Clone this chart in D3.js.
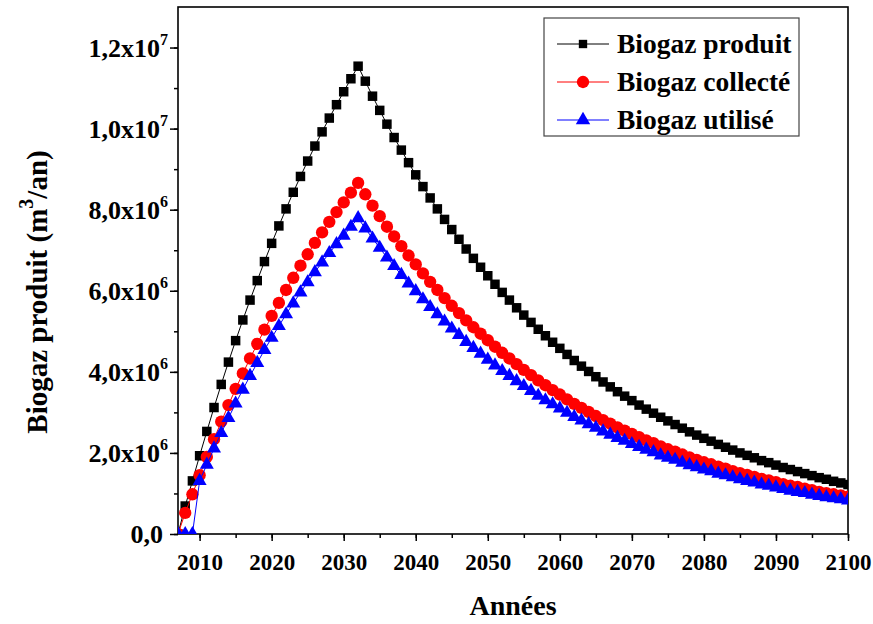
<!DOCTYPE html>
<html>
<head>
<meta charset="utf-8">
<script src="https://d3js.org/d3.v7.min.js"></script>
<style>
body { margin: 0; background: #fff; }
text { font-family: "Liberation Serif", "Times New Roman", serif; font-weight: bold; fill: #000; }
</style>
</head>
<body>
<svg id="chart" width="873" height="624"></svg>
<script>
// years 2007..2100, values in millions of m3/an
const years = d3.range(2007, 2101);

const produit = [0, 0.69, 1.31, 1.93, 2.53, 3.12, 3.69, 4.24, 4.77, 5.28, 5.77, 6.25, 6.72, 7.17, 7.60, 8.02, 8.43, 8.82, 9.20, 9.57,
  9.92, 10.26, 10.59, 10.91, 11.23, 11.54,
  11.17, 10.80, 10.45, 10.11, 9.78, 9.47, 9.16, 8.86, 8.57, 8.29, 8.02, 7.76, 7.51, 7.27, 7.03, 6.80, 6.58, 6.37,
  6.16, 5.96, 5.77, 5.58, 5.40, 5.22, 5.05, 4.89, 4.73, 4.58, 4.43, 4.28, 4.14, 4.01, 3.88, 3.75, 3.63, 3.51, 3.40, 3.29,
  3.18, 3.08, 2.98, 2.88, 2.79, 2.70, 2.61, 2.52, 2.44, 2.36, 2.29, 2.21, 2.14, 2.07, 2.00, 1.94, 1.88, 1.81, 1.76, 1.70,
  1.64, 1.59, 1.54, 1.49, 1.44, 1.39, 1.35, 1.30, 1.26, 1.22];

const collecte = [0, 0.52, 0.98, 1.45, 1.90, 2.34, 2.77, 3.18, 3.58, 3.96, 4.33, 4.69, 5.04, 5.38, 5.70, 6.02, 6.32, 6.62, 6.90, 7.18,
  7.44, 7.70, 7.94, 8.18, 8.42, 8.66,
  8.38, 8.10, 7.84, 7.58, 7.34, 7.10, 6.87, 6.65, 6.43, 6.22, 6.02, 5.82, 5.63, 5.45, 5.27, 5.10, 4.94, 4.78,
  4.62, 4.47, 4.33, 4.19, 4.05, 3.92, 3.79, 3.67, 3.55, 3.44, 3.32, 3.21, 3.11, 3.01, 2.91, 2.81, 2.72, 2.63, 2.55, 2.47,
  2.39, 2.31, 2.24, 2.16, 2.09, 2.03, 1.96, 1.89, 1.83, 1.77, 1.72, 1.66, 1.61, 1.55, 1.50, 1.46, 1.41, 1.36, 1.32, 1.28,
  1.23, 1.19, 1.16, 1.12, 1.08, 1.04, 1.01, 0.98, 0.95, 0.92];

const utilise = [0, 0, 0, 1.31, 1.71, 2.11, 2.49, 2.86, 3.22, 3.56, 3.90, 4.22, 4.54, 4.84, 5.13, 5.42, 5.69, 5.96, 6.21, 6.46,
  6.70, 6.93, 7.15, 7.36, 7.58, 7.79,
  7.54, 7.29, 7.06, 6.82, 6.61, 6.39, 6.18, 5.99, 5.79, 5.60, 5.42, 5.24, 5.07, 4.91, 4.74, 4.59, 4.45, 4.30,
  4.16, 4.02, 3.90, 3.77, 3.65, 3.53, 3.41, 3.30, 3.20, 3.10, 2.99, 2.89, 2.80, 2.71, 2.62, 2.53, 2.45, 2.37, 2.30, 2.22,
  2.15, 2.08, 2.02, 1.94, 1.88, 1.83, 1.76, 1.70, 1.65, 1.59, 1.55, 1.49, 1.45, 1.40, 1.35, 1.31, 1.27, 1.22, 1.19, 1.15,
  1.11, 1.07, 1.04, 1.01, 0.97, 0.94, 0.91, 0.88, 0.86, 0.83];

const seriesNames = ["Biogaz produit", "Biogaz collecté", "Biogaz utilisé"];
const seriesColors = ["#000000", "#ff0000", "#0000ff"];
const xTicks = [2010, 2020, 2030, 2040, 2050, 2060, 2070, 2080, 2090, 2100];
const yTicks = [0, 2, 4, 6, 8, 10, 12];

const svg = d3.select("#chart");
const pLeft = 178, pRight = 848, pTop = 7, pBottom = 534;

const x = d3.scaleLinear().domain([2007, 2100]).range([pLeft, pRight]);
const y = d3.scaleLinear().domain([0, 13]).range([pBottom, pTop]);

svg.append("defs").append("clipPath").attr("id", "plotclip")
  .append("rect").attr("x", pLeft).attr("y", pTop).attr("width", pRight - pLeft).attr("height", pBottom - pTop);

// axes
const xAxis = svg.append("g").attr("transform", "translate(0," + pBottom + ")");
xAxis.append("g").call(d3.axisBottom(x).tickValues(d3.range(2010, 2101, 5)).tickSize(4).tickFormat(""));
xAxis.append("g").call(d3.axisBottom(x).tickValues(xTicks).tickSize(7).tickFormat(d3.format("d")));
xAxis.selectAll("path.domain").remove();
xAxis.selectAll("line").attr("stroke", "#000").attr("stroke-width", 1.5);
xAxis.selectAll("text").attr("font-size", 23).attr("dy", null).attr("y", 36).attr("fill", "#000")
  .style("font-family", "Liberation Serif").style("font-weight", "bold");

const yAxis = svg.append("g").attr("transform", "translate(" + pLeft + ",0)");
yAxis.append("g").call(d3.axisLeft(y).tickValues(d3.range(0, 13, 1)).tickSize(4).tickFormat(""));
yAxis.append("g").call(d3.axisLeft(y).tickValues(yTicks).tickSize(8).tickFormat(""));
yAxis.selectAll("path.domain").remove();
yAxis.selectAll("line").attr("stroke", "#000").attr("stroke-width", 1.5);

yTicks.forEach(v => {
  const t = svg.append("text").attr("text-anchor", "end")
    .attr("x", v === 0 ? 163 : 168).attr("y", y(v) + 9).attr("font-size", 26);
  if (v === 0) { t.text("0,0"); return; }
  const e = Math.floor(Math.log10(v * 1e6));
  const m = (v * 1e6 / Math.pow(10, e)).toFixed(1).replace(".", ",");
  t.append("tspan").text(m + "x10");
  t.append("tspan").attr("font-size", 16).attr("dy", -12).text(e);
});

// frame
svg.append("rect").attr("x", pLeft).attr("y", pTop).attr("width", pRight - pLeft).attr("height", pBottom - pTop)
  .attr("fill", "none").attr("stroke", "#000").attr("stroke-width", 1.6);

// series
const allSeries = [produit, collecte, utilise];
const symbols = [
  d3.symbol().type(d3.symbolSquare).size(90),
  d3.symbol().type(d3.symbolCircle).size(120),
  d3.symbol().type(d3.symbolTriangle).size(85)
];
const plot = svg.append("g").attr("clip-path", "url(#plotclip)");
const line = d3.line().x((d, i) => x(years[i])).y(d => y(d));

allSeries.forEach((vals, k) => {
  const g = plot.append("g");
  g.append("path").attr("d", line(vals)).attr("fill", "none")
    .attr("stroke", seriesColors[k]).attr("stroke-width", 1);
  g.selectAll("path.pt").data(vals).join("path").attr("class", "pt")
    .attr("transform", (d, i) => "translate(" + x(years[i]) + "," + y(d) + ")")
    .attr("d", symbols[k]).attr("fill", seriesColors[k]);
});

// legend
const legend = svg.append("g");
legend.append("rect").attr("x", 544).attr("y", 18).attr("width", 255).attr("height", 118)
  .attr("fill", "#fff").attr("stroke", "#444").attr("stroke-width", 1.2);
const legendSymbols = [
  d3.symbol().type(d3.symbolSquare).size(70),
  d3.symbol().type(d3.symbolCircle).size(120),
  d3.symbol().type(d3.symbolTriangle).size(90)
];
seriesNames.forEach((name, k) => {
  const ly = 44 + k * 38;
  legend.append("line").attr("x1", 557).attr("x2", 609).attr("y1", ly).attr("y2", ly)
    .attr("stroke", seriesColors[k]).attr("stroke-width", 1);
  legend.append("path").attr("d", legendSymbols[k]).attr("fill", seriesColors[k])
    .attr("transform", "translate(583," + ly + ")");
  legend.append("text").attr("x", 617).attr("y", ly + 9).attr("font-size", 27.5).text(name);
});

// axis titles
svg.append("text").attr("x", (pLeft + pRight) / 2).attr("y", 615).attr("text-anchor", "middle")
  .attr("font-size", 28).text("Années");
const yt = svg.append("text").attr("transform", "translate(47,292) rotate(-90)")
  .attr("text-anchor", "middle").attr("font-size", 29);
yt.append("tspan").text("Biogaz produit (m");
yt.append("tspan").attr("font-size", 20).attr("dy", -14).text("3");
yt.append("tspan").attr("dy", 14).text("/an)");
</script>
</body>
</html>
